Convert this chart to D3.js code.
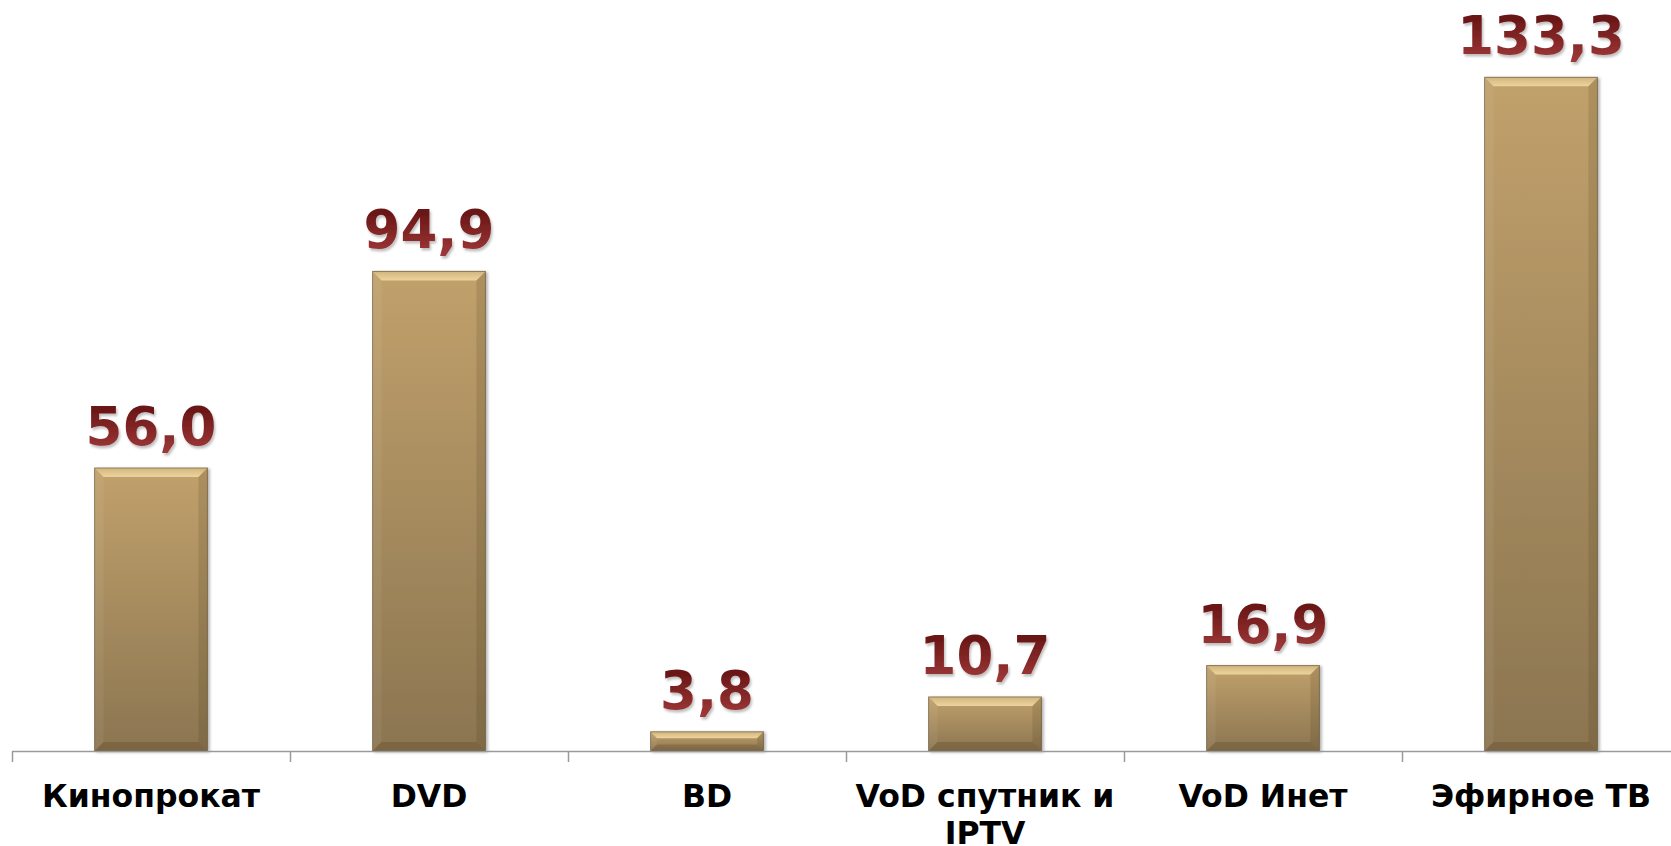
<!DOCTYPE html>
<html>
<head>
<meta charset="utf-8">
<script src="https://cdn.jsdelivr.net/npm/d3@7"></script>
<style>
    body { margin: 0; background: #ffffff; }
    #chart-area { width: 1671px; height: 846px; overflow: hidden; }
    text { font-family: "DejaVu Sans", Verdana, sans-serif; font-weight: bold; }
</style>
</head>
<body>
<div id="chart-area"></div>
<script>

// data
let categories = ["Кинопрокат", "DVD", "BD", "VoD спутник и IPTV", "VoD Инет", "Эфирное ТВ"];
let values = [56.0, 94.9, 3.8, 10.7, 16.9, 133.3];
let valueLabels = ["56,0", "94,9", "3,8", "10,7", "16,9", "133,3"];

let width = 1671;
let height = 846;
let axisY = 751;

let svg = d3.select("#chart-area").append("svg")
    .attr("width", width)
    .attr("height", height);

let defs = svg.append("defs");

// bar body gradient
let barGrad = defs.append("linearGradient")
    .attr("id", "barGrad")
    .attr("x1", 0).attr("y1", 0).attr("x2", 0).attr("y2", 1);
barGrad.append("stop").attr("offset", "0%").attr("stop-color", "#c1a16c");
barGrad.append("stop").attr("offset", "100%").attr("stop-color", "#8b7550");

// bevel top gradient
let topGrad = defs.append("linearGradient")
    .attr("id", "topGrad")
    .attr("x1", 0).attr("y1", 0).attr("x2", 0).attr("y2", 1);
topGrad.append("stop").attr("offset", "0%").attr("stop-color", "#d2b57f");
topGrad.append("stop").attr("offset", "100%").attr("stop-color", "#ecd49c");

// label gradient
let textGrad = defs.append("linearGradient")
    .attr("id", "textGrad")
    .attr("x1", 0).attr("y1", 0).attr("x2", 0).attr("y2", 1);
textGrad.append("stop").attr("offset", "0%").attr("stop-color", "#5a0c0c");
textGrad.append("stop").attr("offset", "100%").attr("stop-color", "#a53c3c");

let shadow = defs.append("filter")
    .attr("id", "textShadow")
    .attr("x", "-10%").attr("y", "-10%").attr("width", "130%").attr("height", "140%");
shadow.append("feDropShadow")
    .attr("dx", 1.5).attr("dy", 2.5).attr("stdDeviation", 1.2)
    .attr("flood-color", "#000").attr("flood-opacity", 0.25);

let barShadow = defs.append("filter")
    .attr("id", "barShadow")
    .attr("x", "-10%").attr("y", "-10%").attr("width", "130%").attr("height", "130%");
barShadow.append("feDropShadow")
    .attr("dx", 2).attr("dy", 1).attr("stdDeviation", 1.5)
    .attr("flood-color", "#000").attr("flood-opacity", 0.3);

// scales
let slots = d3.scaleBand()
    .domain(categories)
    .range([12, 1680]);

let x = d3.scaleBand()
    .domain(categories)
    .range([12, 1680])
    .paddingInner(0.594)
    .paddingOuter(0.297);

let y = d3.scaleLinear()
    .domain([0, 140])
    .range([axisY, axisY - 140 * 5.054]);

// bars
let bars = svg.selectAll(".bar")
    .data(values)
    .enter().append("g")
    .attr("class", "bar")
    .attr("filter", "url(#barShadow)");

bars.each(function(d, i) {
    let g = d3.select(this);
    let x0 = x(categories[i]);
    let w = x.bandwidth();
    let y0 = y(d);
    let h = y(0) - y0;
    let b = Math.min(9, h / 3);
    let x1 = x0 + w;
    let y1 = y0 + h;

    g.append("rect")
        .attr("x", x0).attr("y", y0)
        .attr("width", w).attr("height", h)
        .attr("fill", "url(#barGrad)");

    // bevel faces
    g.append("polygon")
        .attr("points", [[x0, y0], [x1, y0], [x1 - b, y0 + b], [x0 + b, y0 + b]].join(" "))
        .attr("fill", "url(#topGrad)");
    g.append("polygon")
        .attr("points", [[x0, y0], [x0 + b, y0 + b], [x0 + b, y1 - b], [x0, y1]].join(" "))
        .attr("fill", "#ffffff").attr("fill-opacity", 0.06);
    g.append("polygon")
        .attr("points", [[x1, y0], [x1, y1], [x1 - b, y1 - b], [x1 - b, y0 + b]].join(" "))
        .attr("fill", "#3a2a10").attr("fill-opacity", 0.14);
    g.append("polygon")
        .attr("points", [[x0, y1], [x0 + b, y1 - b], [x1 - b, y1 - b], [x1, y1]].join(" "))
        .attr("fill", "#3a2a10").attr("fill-opacity", 0.2);

    g.append("rect")
        .attr("x", x0).attr("y", y0)
        .attr("width", w).attr("height", h)
        .attr("fill", "none")
        .attr("stroke", "#5c4a2c")
        .attr("stroke-opacity", 0.6)
        .attr("stroke-width", 1);
});

// axis line and ticks
svg.append("line")
    .attr("x1", 12).attr("x2", width)
    .attr("y1", axisY + 0.5).attr("y2", axisY + 0.5)
    .attr("stroke", "#9a9a9a")
    .attr("stroke-width", 1.5);

svg.selectAll(".tick")
    .data(categories)
    .enter().append("line")
    .attr("class", "tick")
    .attr("x1", d => slots(d) + 0.5)
    .attr("x2", d => slots(d) + 0.5)
    .attr("y1", axisY)
    .attr("y2", axisY + 11)
    .attr("stroke", "#9a9a9a")
    .attr("stroke-width", 1.5);

// value labels
svg.selectAll(".value")
    .data(values)
    .enter().append("text")
    .attr("class", "value")
    .attr("x", (d, i) => x(categories[i]) + x.bandwidth() / 2)
    .attr("y", d => y(d) - 23)
    .attr("text-anchor", "middle")
    .attr("font-size", "53px")
    .attr("fill", "url(#textGrad)")
    .attr("filter", "url(#textShadow)")
    .text((d, i) => valueLabels[i]);

// category labels, wrapped
let catLabels = svg.selectAll(".cat")
    .data(categories)
    .enter().append("text")
    .attr("class", "cat")
    .attr("text-anchor", "middle")
    .attr("font-size", "31.5px")
    .attr("fill", "#000")
    .attr("x", d => slots(d) + slots.bandwidth() / 2)
    .attr("y", 807);

catLabels.each(function(d) {
    let t = d3.select(this);
    let cx = slots(d) + slots.bandwidth() / 2;
    let words = d.split(" ");
    let line = [];
    let lineNo = 0;
    let tspan = t.append("tspan").attr("x", cx).attr("y", 807);
    words.forEach(word => {
        line.push(word);
        tspan.text(line.join(" "));
        if (tspan.node().getComputedTextLength() > 272 && line.length > 1) {
            line.pop();
            tspan.text(line.join(" "));
            line = [word];
            lineNo++;
            tspan = t.append("tspan").attr("x", cx).attr("y", 807 + lineNo * 37).text(word);
        }
    });
});

</script>
</body>
</html>
